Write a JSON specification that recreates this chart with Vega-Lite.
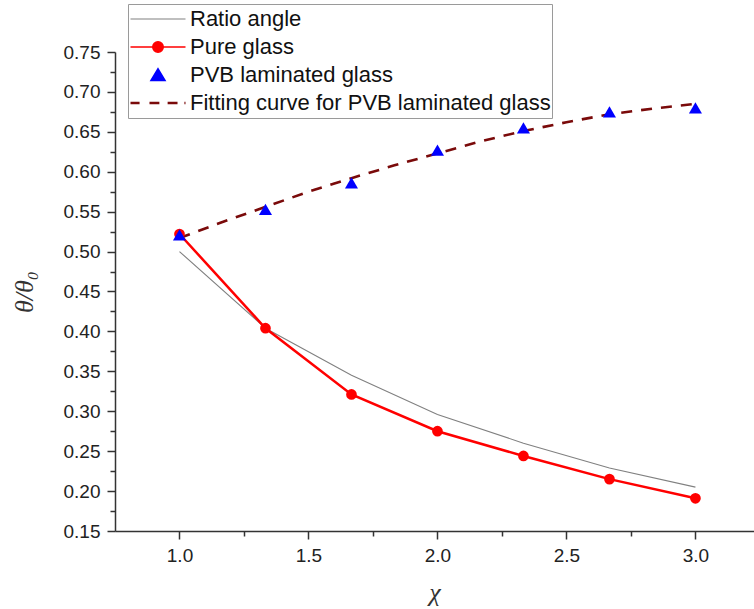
{
  "$schema": "https://vega.github.io/schema/vega-lite/v6.json",
  "width": 639,
  "height": 479,
  "autosize": "none",
  "padding": {"left": 115, "top": 52, "right": 0, "bottom": 78},
  "background": "white",
  "config": {
    "view": {"stroke": null},
    "font": "Liberation Sans",
    "axis": {
      "grid": false,
      "domainColor": "#333333",
      "domainWidth": 1.5,
      "tickColor": "#333333",
      "tickWidth": 1.5,
      "labelColor": "#222222",
      "labelFont": "Liberation Sans",
      "titleColor": "#333333"
    },
    "legend": {
      "title": null,
      "orient": "none",
      "legendX": 13,
      "legendY": -48,
      "padding": 1,
      "clipHeight": 28,
      "rowPadding": 0,
      "symbolSize": 3025,
      "symbolOpacity": 1,
      "labelOffset": 3,
      "labelFontSize": 22,
      "labelFont": "Liberation Sans",
      "labelColor": "#111111",
      "labelLimit": 600,
      "strokeColor": "#9a9a9a",
      "fillColor": "white"
    }
  },
  "data": {
    "values": [
      {"x": 1.0, "y": 0.500, "series": "Ratio angle"},
      {"x": 1.3333, "y": 0.404, "series": "Ratio angle"},
      {"x": 1.6667, "y": 0.345, "series": "Ratio angle"},
      {"x": 2.0, "y": 0.296, "series": "Ratio angle"},
      {"x": 2.3333, "y": 0.260, "series": "Ratio angle"},
      {"x": 2.6667, "y": 0.229, "series": "Ratio angle"},
      {"x": 3.0, "y": 0.205, "series": "Ratio angle"},
      {"x": 1.0, "y": 0.522, "series": "Pure glass"},
      {"x": 1.3333, "y": 0.404, "series": "Pure glass"},
      {"x": 1.6667, "y": 0.321, "series": "Pure glass"},
      {"x": 2.0, "y": 0.275, "series": "Pure glass"},
      {"x": 2.3333, "y": 0.244, "series": "Pure glass"},
      {"x": 2.6667, "y": 0.215, "series": "Pure glass"},
      {"x": 3.0, "y": 0.191, "series": "Pure glass"},
      {"x": 1.0, "y": 0.521, "series": "PVB laminated glass"},
      {"x": 1.3333, "y": 0.553, "series": "PVB laminated glass"},
      {"x": 1.6667, "y": 0.586, "series": "PVB laminated glass"},
      {"x": 2.0, "y": 0.627, "series": "PVB laminated glass"},
      {"x": 2.3333, "y": 0.655, "series": "PVB laminated glass"},
      {"x": 2.6667, "y": 0.675, "series": "PVB laminated glass"},
      {"x": 3.0, "y": 0.680, "series": "PVB laminated glass"},
      {"x": 1.0, "y": 0.517, "series": "Fitting curve for PVB laminated glass"},
      {"x": 1.1667, "y": 0.537, "series": "Fitting curve for PVB laminated glass"},
      {"x": 1.3333, "y": 0.556, "series": "Fitting curve for PVB laminated glass"},
      {"x": 1.5, "y": 0.575, "series": "Fitting curve for PVB laminated glass"},
      {"x": 1.6667, "y": 0.592, "series": "Fitting curve for PVB laminated glass"},
      {"x": 1.8333, "y": 0.608, "series": "Fitting curve for PVB laminated glass"},
      {"x": 2.0, "y": 0.623, "series": "Fitting curve for PVB laminated glass"},
      {"x": 2.1667, "y": 0.638, "series": "Fitting curve for PVB laminated glass"},
      {"x": 2.3333, "y": 0.651, "series": "Fitting curve for PVB laminated glass"},
      {"x": 2.5, "y": 0.662, "series": "Fitting curve for PVB laminated glass"},
      {"x": 2.6667, "y": 0.672, "series": "Fitting curve for PVB laminated glass"},
      {"x": 2.8333, "y": 0.679, "series": "Fitting curve for PVB laminated glass"},
      {"x": 3.0, "y": 0.685, "series": "Fitting curve for PVB laminated glass"}
    ]
  },
  "layer": [
    {
      "transform": [{"filter": "datum.series === 'Ratio angle'"}],
      "mark": {"type": "line", "color": "#808080", "strokeWidth": 1.1},
      "encoding": {
        "x": {
          "field": "x", "type": "quantitative",
          "scale": {"domain": [0.75, 3.227], "nice": false, "zero": false},
          "axis": {
            "orient": "bottom",
            "values": [1.0, 1.5, 2.0, 2.5, 3.0],
            "format": ".1f",
            "tickSize": 8,
            "labelPadding": 7,
            "labelFontSize": 19,
            "title": "χ",
            "titleFont": "Liberation Serif",
            "titleFontStyle": "italic",
            "titleFontWeight": "normal",
            "titleFontSize": 26,
            "titlePadding": 14
          }
        },
        "y": {
          "field": "y", "type": "quantitative",
          "scale": {"domain": [0.15, 0.75], "nice": false, "zero": false},
          "axis": {
            "orient": "left",
            "values": [0.15, 0.2, 0.25, 0.3, 0.35, 0.4, 0.45, 0.5, 0.55, 0.6, 0.65, 0.7, 0.75],
            "format": ".2f",
            "tickSize": 8,
            "labelPadding": 7,
            "labelFontSize": 19,
            "title": "θ/θ₀",
            "titleFont": "Liberation Serif",
            "titleFontStyle": "italic",
            "titleFontWeight": "normal",
            "titleFontSize": 26,
            "titlePadding": 26
          }
        }
      }
    },
    {
      "transform": [{"filter": "datum.series === 'Pure glass'"}],
      "mark": {"type": "line", "color": "#ff0000", "strokeWidth": 2.5},
      "encoding": {
        "x": {"field": "x", "type": "quantitative", "axis": null},
        "y": {"field": "y", "type": "quantitative", "axis": null}
      }
    },
    {
      "transform": [{"filter": "datum.series === 'Fitting curve for PVB laminated glass'"}],
      "mark": {"type": "line", "color": "#7a0a0a", "strokeWidth": 2.6, "strokeDash": [11, 9]},
      "encoding": {
        "x": {"field": "x", "type": "quantitative", "axis": null},
        "y": {"field": "y", "type": "quantitative", "axis": null}
      }
    },
    {
      "transform": [{"filter": "datum.series === 'Pure glass'"}],
      "mark": {"type": "point", "shape": "circle", "filled": true, "color": "#ff0000", "opacity": 1, "size": 115},
      "encoding": {
        "x": {"field": "x", "type": "quantitative", "axis": null},
        "y": {"field": "y", "type": "quantitative", "axis": null}
      }
    },
    {
      "transform": [{"filter": "datum.series === 'PVB laminated glass'"}],
      "mark": {"type": "point", "shape": "triangle-up", "filled": true, "color": "#0000ff", "opacity": 1, "size": 170},
      "encoding": {
        "x": {"field": "x", "type": "quantitative", "axis": null},
        "y": {"field": "y", "type": "quantitative", "axis": null}
      }
    },
    {
      "mark": {"type": "point", "opacity": 0, "filled": true},
      "encoding": {
        "x": {
          "field": "x", "type": "quantitative",
          "axis": {
            "orient": "bottom",
            "values": [1.25, 1.75, 2.25, 2.75],
            "labels": false,
            "domain": false,
            "tickSize": 5,
            "title": null
          }
        },
        "y": {
          "field": "y", "type": "quantitative",
          "axis": {
            "orient": "left",
            "values": [0.175, 0.225, 0.275, 0.325, 0.375, 0.425, 0.475, 0.525, 0.575, 0.625, 0.675, 0.725],
            "labels": false,
            "domain": false,
            "tickSize": 5,
            "title": null
          }
        },
        "shape": {
          "field": "series", "type": "nominal",
          "scale": {
            "domain": ["Ratio angle", "Pure glass", "PVB laminated glass", "Fitting curve for PVB laminated glass"],
            "range": [
              "M-1,0L1,0",
              "M-1,0L1,0M-0.19,0A0.19,0.19,0,1,1,0.19,0A0.19,0.19,0,1,1,-0.19,0Z",
              "M0,-0.21L0.24,0.19L-0.24,0.19Z",
              "M-1,0L-0.67,0M-0.31,0L0.05,0M0.35,0L0.71,0M0.96,0L1,0"
            ]
          }
        },
        "stroke": {
          "field": "series", "type": "nominal",
          "scale": {
            "domain": ["Ratio angle", "Pure glass", "PVB laminated glass", "Fitting curve for PVB laminated glass"],
            "range": ["#808080", "#ff0000", "#0000ff", "#7a0a0a"]
          }
        },
        "fill": {
          "field": "series", "type": "nominal",
          "scale": {
            "domain": ["Ratio angle", "Pure glass", "PVB laminated glass", "Fitting curve for PVB laminated glass"],
            "range": ["transparent", "#ff0000", "#0000ff", "transparent"]
          }
        },
        "strokeWidth": {
          "field": "series", "type": "ordinal",
          "scale": {
            "domain": ["Ratio angle", "Pure glass", "PVB laminated glass", "Fitting curve for PVB laminated glass"],
            "range": [1.1, 2.5, 0.5, 2.5]
          }
        }
      }
    }
  ],
  "resolve": {"axis": {"x": "independent", "y": "independent"}}
}
